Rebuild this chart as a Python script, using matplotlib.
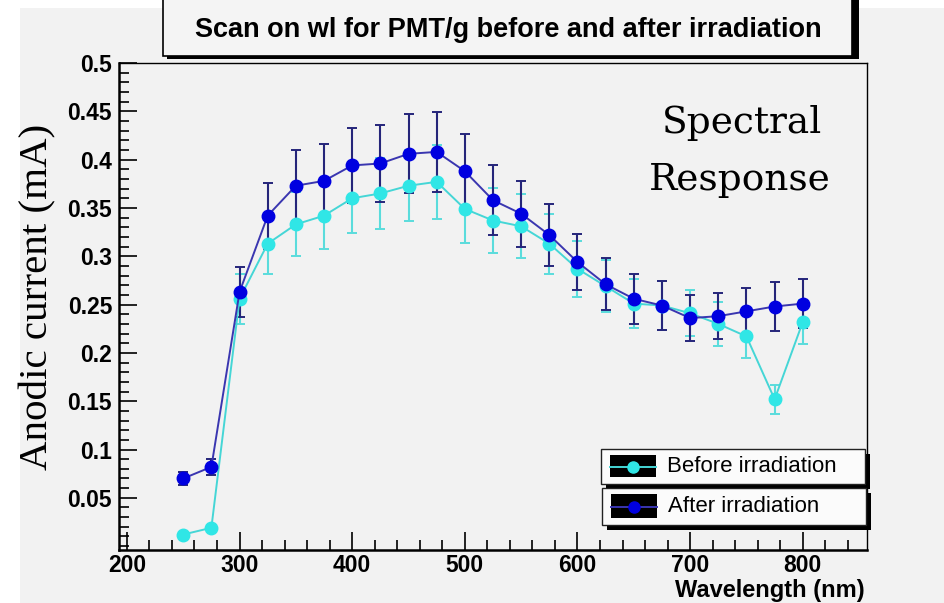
import matplotlib
matplotlib.use("Agg")
import matplotlib.pyplot as plt
from matplotlib.patches import Rectangle
from matplotlib.lines import Line2D
from matplotlib.ticker import MultipleLocator

# --------------------------------------------------
# Scan data (anodic current in mA vs wavelength in nm)
# --------------------------------------------------
wavelength = [250, 275, 300, 325, 350, 375, 400, 425, 450, 475, 500, 525,
              550, 575, 600, 625, 650, 675, 700, 725, 750, 775, 800]

before = [0.012, 0.019, 0.256, 0.313, 0.333, 0.342, 0.360, 0.365, 0.373, 0.377,
          0.349, 0.337, 0.331, 0.313, 0.287, 0.269, 0.251, 0.249, 0.241, 0.230,
          0.217, 0.152, 0.232]
before_err = [0.002, 0.002, 0.026, 0.031, 0.033, 0.034, 0.036, 0.037, 0.037, 0.038,
              0.035, 0.034, 0.033, 0.031, 0.029, 0.027, 0.025, 0.025, 0.024, 0.023,
              0.022, 0.015, 0.023]

after = [0.070, 0.082, 0.263, 0.342, 0.373, 0.378, 0.394, 0.396, 0.406, 0.408,
         0.388, 0.358, 0.344, 0.322, 0.294, 0.271, 0.256, 0.249, 0.236, 0.238,
         0.243, 0.248, 0.251]
after_err = [0.007, 0.008, 0.026, 0.034, 0.037, 0.038, 0.039, 0.040, 0.041, 0.041,
             0.039, 0.036, 0.034, 0.032, 0.029, 0.027, 0.026, 0.025, 0.024, 0.024,
             0.024, 0.025, 0.025]

yticks = [0.05, 0.1, 0.15, 0.2, 0.25, 0.3, 0.35, 0.4, 0.45, 0.5]
ytick_labels = ["0.05", "0.1", "0.15", "0.2", "0.25", "0.3", "0.35", "0.4", "0.45", "0.5"]
xticks = [200, 300, 400, 500, 600, 700, 800]

W, H = 944, 603
SANS = "Liberation Sans"
SERIF = "Liberation Serif"
BG = "#f2f2f2"

before_style = dict(line="#45d6d6", marker="#30e6e6", err="#5adcdc")
after_style = dict(line="#3a36b0", marker="#0000e0", err="#25257a")


def fx(x):
    return x / W


def fy(y):
    return 1 - y / H


fig = plt.figure(figsize=(W / 100, H / 100), dpi=100)
fig.patch.set_facecolor("white")
fig.patches.append(Rectangle((fx(20), 0), 1, fy(8), transform=fig.transFigure,
                             facecolor=BG, edgecolor="none", zorder=-10))

ax = fig.add_axes([fx(119), fy(550), (867 - 119) / W, (550 - 63) / H])
ax.set_facecolor(BG)

# --------------------------------------------------
# Data with error bars
# --------------------------------------------------
for vals, errs, st in [(before, before_err, before_style), (after, after_err, after_style)]:
    ax.errorbar(wavelength, vals, yerr=errs, fmt="o-", color=st["line"], lw=1.4,
                ms=9, mfc=st["marker"], mec=st["marker"], ecolor=st["err"],
                elinewidth=1.5, capsize=3.5, capthick=1.4)

ax.set_xlim(193, 857)
ax.set_ylim(-0.004, 0.5)

ax.set_xticks(xticks)
ax.set_yticks(yticks)
ax.set_yticklabels(ytick_labels)
ax.xaxis.set_minor_locator(MultipleLocator(20))
ax.yaxis.set_minor_locator(MultipleLocator(0.01))
ax.tick_params(which="both", direction="in", top=False, right=False, width=1.2)
ax.tick_params(which="major", length=13)
ax.tick_params(which="minor", length=7)
ax.tick_params(axis="x", pad=3)
ax.tick_params(axis="y", pad=5)
for lab in ax.get_xticklabels() + ax.get_yticklabels():
    lab.set_fontfamily(SANS)
    lab.set_fontweight("bold")
    lab.set_fontsize(16.5)

for side in ["left", "bottom"]:
    ax.spines[side].set_linewidth(1.8)
for side in ["top", "right"]:
    ax.spines[side].set_linewidth(1.0)

# --------------------------------------------------
# Title box with shadow
# --------------------------------------------------
fig.patches.append(Rectangle((fx(167), fy(59)), (855 - 163) / W, (59 + 10) / H,
                             transform=fig.transFigure, facecolor="black", zorder=1))
fig.patches.append(Rectangle((fx(163), fy(56)), (852 - 163) / W, (56 + 10) / H,
                             transform=fig.transFigure, facecolor="#f4f4f4",
                             edgecolor="black", lw=1.2, zorder=2))
fig.text(fx(508), fy(30), "Scan on wl for PMT/g before and after irradiation",
         ha="center", va="center", family=SANS, weight="bold", fontsize=19.5, zorder=3)

# --------------------------------------------------
# Axis labels and annotation
# --------------------------------------------------
fig.text(fx(865), fy(590), "Wavelength (nm)", ha="right", va="center",
         family=SANS, weight="bold", fontsize=17)
fig.text(fx(38), fy(297), "Anodic current (mA)", ha="center", va="center",
         rotation=90, family=SERIF, fontsize=29.5)
fig.text(fx(742), fy(123), "Spectral", ha="center", va="center",
         family="DejaVu Serif", fontsize=27)
fig.text(fx(740), fy(180), "Response", ha="center", va="center",
         family="DejaVu Serif", fontsize=27)

# --------------------------------------------------
# Legend: two boxes with drop shadows
# --------------------------------------------------
legend_rows = [("Before irradiation", before_style, 449, 484, 601, 865),
               ("After irradiation", after_style, 488, 525, 602, 866)]
for text, st, top, bot, left, right in legend_rows:
    fig.patches.append(Rectangle((fx(left + 5), fy(bot + 5)), (right - left) / W,
                                 (bot - top) / H, transform=fig.transFigure,
                                 facecolor="black", zorder=4))
    fig.patches.append(Rectangle((fx(left), fy(bot)), (right - left) / W,
                                 (bot - top) / H, transform=fig.transFigure,
                                 facecolor="#fbfbfb", edgecolor="#222222",
                                 lw=1.0, zorder=5))
    fig.patches.append(Rectangle((fx(left + 9), fy(bot - 7)), 46 / W,
                                 (bot - top - 13) / H, transform=fig.transFigure,
                                 facecolor="black", zorder=6))
    ymid = fy((top + bot) / 2)
    fig.lines.append(Line2D([fx(left + 9), fx(left + 55)], [ymid, ymid],
                            transform=fig.transFigure, color=st["line"], lw=1.4, zorder=7))
    fig.lines.append(Line2D([fx(left + 32)], [ymid], transform=fig.transFigure,
                            marker="o", ms=8, color=st["marker"], zorder=8))
    fig.text(fx(left + 66), ymid, text, ha="left", va="center",
             family=SANS, fontsize=16, zorder=9)

fig.savefig("out.png", dpi=100, facecolor=fig.get_facecolor())
